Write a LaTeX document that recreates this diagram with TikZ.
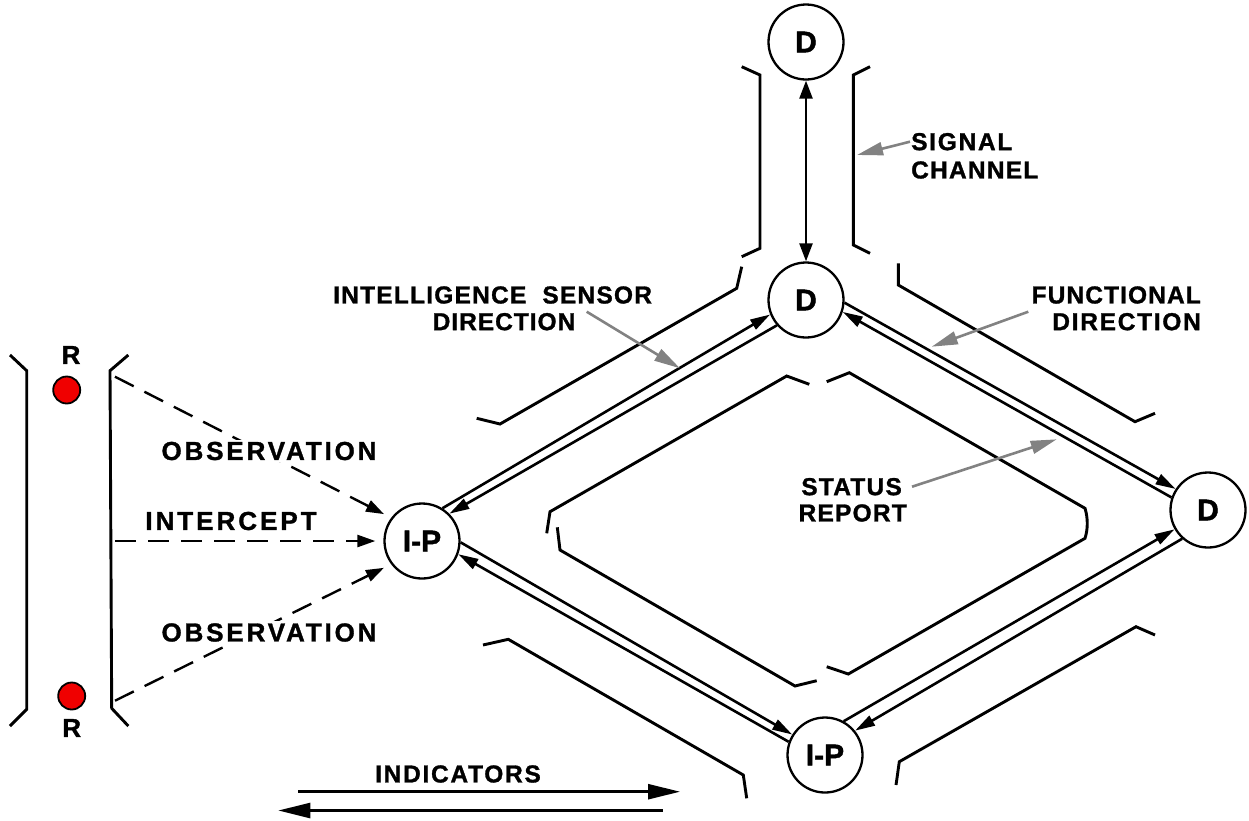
\documentclass[tikz,border=0pt]{standalone}
\usepackage{fontspec}
\setmainfont{Liberation Sans}
\usetikzlibrary{arrows.meta,calc}
\definecolor{arrowgray}{RGB}{130,130,130}
\definecolor{dotred}{RGB}{240,0,0}
\newcommand\labelfont[1]{\fontsize{24.5}{26}\selectfont\bfseries\addfontfeature{LetterSpace=#1,FakeBold=1.2}}
\newcommand\bigfont[1]{\fontsize{26}{28}\selectfont\bfseries\addfontfeature{LetterSpace=#1,FakeBold=1.2}}

\begin{document}
\begin{tikzpicture}[x=1pt,y=-1pt,
  station/.style={circle,draw,line width=2.3pt,minimum size=75pt,inner sep=0pt,
    font=\fontsize{30}{30}\selectfont\bfseries\addfontfeature{FakeBold=1.4}},
  radar/.style={circle,draw,fill=dotred,line width=1.8pt,minimum size=27pt,inner sep=0pt},
  bracket/.style={line width=2.9pt,line join=miter},
  link/.style={line width=2.6pt,-{Triangle[length=20pt,width=11pt]}},
  watch/.style={line width=2.4pt,dash pattern=on 21pt off 12pt,
    -{Triangle[length=18pt,width=12pt]},shorten >=8pt},
  pointer/.style={draw=arrowgray,line width=2.6pt,-{Triangle[length=26pt,width=13pt]}},
  flow/.style={line width=2.6pt,-{Triangle[length=32pt,width=15pt]}},
  lab/.style={font=\labelfont{#1},inner sep=1pt},
  lab/.default=5,
  biglab/.style={font=\bigfont{#1},inner sep=1pt}
]
\useasboundingbox (0,0) rectangle (1249,820);

% stations
\node[station] (dTop)   at (806,42)   {D};
\node[station] (dMid)   at (806,300)  {D};
\node[station] (dRight) at (1208,510) {D};
\node[station] (ipLeft) at (422,541)  {I-P};
\node[station] (ipBot)  at (825,755)  {I-P};

% radar dots
\node[radar] (rTop) at (66.7,390) {};
\node[radar] (rBot) at (71.7,696) {};
\node[biglab=0] (rTopLbl) at (71,355) {R};
\node[biglab=0] (rBotLbl) at (71.7,728) {R};

% left column brackets
\draw[bracket] (10,355) -- (26.7,370.7) -- (26.7,709.3) -- (10,726);
\draw[bracket] (128.3,355) -- (110,370.7) -- (111.7,708.3) -- (128.3,726);

% signal channel brackets
\draw[bracket] (741.7,66.7) -- (760,75) -- (760,248.3) -- (741.7,256.7);
\draw[bracket] (870,66.7) -- (853.3,75) -- (853.3,245) -- (870,253.3);

% outer channel brackets
\draw[bracket] (476.7,418.3) -- (500,424) -- (736.7,288.3) -- (741.7,266.7);
\draw[bracket] (898.3,263.3) -- (898.3,285) -- (1135,421.7) -- (1155,413.3);
\draw[bracket] (483,645) -- (508.3,639.3) -- (743.3,775) -- (746.7,798.3);
\draw[bracket] (1155,635) -- (1136,626.7) -- (899.3,761.7) -- (896,785);

% inner channel brackets
\draw[bracket] (809.3,384.3) -- (786.7,376) -- (550,511.7) -- (546.7,533.3);
\draw[bracket] (557.3,527.3) -- (560,550) -- (795,686) -- (816.7,680.7);
\draw[bracket] (826.7,381.7) -- (849.3,372.7) -- (1085,508.3)
  .. controls (1088,518) and (1088,529) .. (1085,538.3) -- (848.3,674) -- (826.7,666.7);

% signal channel link
\draw[line width=2.4pt,{Triangle[length=18pt,width=13pt]}-{Triangle[length=18pt,width=13pt]}] (dTop) -- (dMid);

% paired links around the diamond
\draw[link] (ipLeft.58.8) -- (dMid.202.6);
\draw[link] (dMid.221.8) -- (ipLeft.45);
\draw[link] (dMid.-4.6) -- (dRight.147.8);
\draw[link] (dRight.161.6) -- (dMid.-18);
\draw[link] (ipLeft.-2) -- (ipBot.148.7);
\draw[link] (ipBot.160) -- (ipLeft.-20);
\draw[link] (ipBot.61.2) -- (dRight.210);
\draw[link] (dRight.228.9) -- (ipBot.39.8);

% collection inputs
\coordinate (obsTopStart) at (115,376.7);
\coordinate (interStart)  at (115,541);
\coordinate (obsBotStart) at (115,700.7);
\draw[watch] (obsTopStart) -- (ipLeft.143);
\draw[watch] (interStart) -- (ipLeft.west);
\draw[watch] (obsBotStart) -- (ipLeft.-143);

% labels
\node[biglab=11,fill=white,inner sep=2pt] (obsTopLbl) at (269,451) {OBSERVATION};
\node[biglab=11.5] (interLbl) at (231,521) {INTERCEPT};
\node[biglab=11,fill=white,inner sep=2pt] (obsBotLbl) at (269,632.5) {OBSERVATION};

\node[lab=7,anchor=west] (sigLbl) at (910,141.7) {SIGNAL};
\node[lab=5,anchor=west] (chanLbl) at (910,170) {CHANNEL};

\node[lab=5,anchor=west] (intelLbl) at (332,295) {INTELLIGENCE\hspace{16pt}SENSOR};
\node[lab=4] (intelDirLbl) at (504,321.7) {DIRECTION};

\node[lab=4.5,anchor=east] (funcLbl) at (1202,295) {FUNCTIONAL};
\node[lab=7,anchor=east] (funcDirLbl) at (1202,321.7) {DIRECTION};

\node[lab=5,anchor=east] (statLbl) at (903,486.7) {STATUS};
\node[lab=5,anchor=east] (repLbl) at (908,513) {REPORT};

\node[lab=7] (indLbl) at (458,774) {INDICATORS};

% gray pointers
\coordinate (sigTip) at (857,155);
\draw[pointer] (sigLbl.west) -- (sigTip);
\coordinate (intelTail) at (586.7,311.7);
\coordinate (intelTip) at (680,368.3);
\draw[pointer] (intelTail) -- (intelTip);
\coordinate (funcTail) at (1028.3,311.7);
\coordinate (funcTip) at (931.7,346.7);
\draw[pointer] (funcTail) -- (funcTip);
\coordinate (statTip) at (1056.7,439.3);
\draw[pointer] (statLbl.east) ++(9,0) coordinate (statTail) (statTail) -- (statTip);

% indicator flows
\coordinate (indFwdA) at (298.3,791.7);
\coordinate (indFwdB) at (680,791.7);
\coordinate (indBackA) at (662.7,810.5);
\coordinate (indBackB) at (278.3,810.5);
\draw[flow] (indFwdA) -- (indFwdB);
\draw[flow] (indBackA) -- (indBackB);
\end{tikzpicture}
\end{document}
